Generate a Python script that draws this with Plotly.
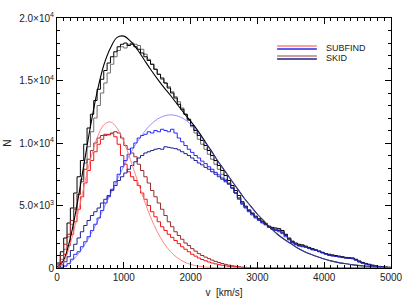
import numpy as np
import plotly.graph_objects as go

# ---------------- data ----------------
BIN_WIDTH = 50          # km/s
V_MAX = 5000

# histograms: counts per 50 km/s bin, 0..5000 km/s (100 bins)
red_subfind = [150, 500, 1100, 1800, 2700, 3700, 4700, 5700, 6800, 7800,
               8600, 9300, 9900, 10300, 10600, 10700, 10750, 10500, 9900, 9000,
               8300, 7700, 7300, 7000, 6600, 6000, 5500, 5000, 4500, 4100,
               3700, 3300, 3000, 2700, 2450, 2200, 1950, 1700, 1500, 1300,
               1100, 950, 800, 680, 580, 480, 400, 330, 270, 220,
               170, 130, 100, 80, 60, 40, 30, 20, 10, 0] + [0] * 40

red_skid = [300, 1000, 1900, 2700, 3800, 4800, 5900, 6900, 7900, 8700,
            9400, 10000, 10400, 10600, 10700, 10650, 10800, 10900, 10800, 10400,
            9800, 9500, 9200, 8900, 8300, 7800, 7300, 6800, 6200, 5700,
            5200, 4700, 4200, 3700, 3300, 2900, 2600, 2300, 2000, 1800,
            1550, 1350, 1150, 1000, 870, 750, 630, 530, 440, 360,
            290, 230, 180, 140, 100, 70, 50, 30, 20, 10] + [0] * 40

blue_subfind = [0, 50, 150, 350, 700, 1100, 1300, 1700, 2100, 2500,
                3000, 3500, 4000, 4600, 5200, 5700, 6300, 6900, 7500, 8100,
                8600, 9100, 9600, 10000, 10400, 10600, 10700, 10900, 10800, 11000,
                10900, 11100, 11000, 10900, 11100, 10800, 10400, 10100, 9800, 9500,
                9250, 9000, 8800, 8550, 8350, 8100, 7900, 7650, 7450, 7200,
                7000, 6750, 6400, 6000, 5500, 5100, 4800, 4500, 4250, 4000,
                3800, 3600, 3450, 3250, 3100, 3000, 2900, 2750, 2500, 2250,
                2000, 1850, 1750, 1700, 1650, 1550, 1450, 1400, 1300, 1200,
                1100, 1000, 950, 920, 880, 830, 790, 760, 740, 620,
                480, 380, 310, 250, 190, 140, 100, 70, 40, 20]

blue_skid = [50, 250, 500, 900, 1400, 1900, 2400, 2900, 3400, 3800,
             4200, 4500, 4800, 5200, 5500, 5800, 6200, 6600, 7000, 7300,
             7600, 7900, 8200, 8500, 8800, 9000, 9200, 9300, 9400, 9500,
             9550, 9500, 9700, 9650, 9600, 9550, 9450, 9300, 9150, 9000,
             8800, 8600, 8400, 8250, 8050, 7900, 7700, 7500, 7300, 7100,
             6900, 6700, 6400, 6000, 5600, 5200, 4900, 4600, 4350, 4100,
             3900, 3700, 3500, 3300, 3150, 3100, 3000, 2850, 2600, 2300,
             2050, 1900, 1800, 1750, 1700, 1600, 1500, 1450, 1350, 1250,
             1150, 1050, 1000, 950, 900, 850, 800, 780, 770, 650,
             500, 400, 330, 260, 200, 150, 110, 80, 50, 30]

total_skid = [400, 1300, 2400, 3600, 4800, 6000, 7300, 8600, 9900, 11200,
              12300, 13400, 14300, 15100, 15800, 16400, 16900, 17300, 17700, 17900,
              18000, 17800, 17900, 17700, 17500, 17200, 16900, 16600, 16300, 15900,
              15500, 15200, 14800, 14400, 14000, 13600, 13100, 12700, 12300, 11900,
              11400, 11000, 10600, 10200, 9800, 9400, 9000, 8600, 8200, 7800,
              7400, 7000, 6600, 6200, 5800, 5300, 4950, 4650, 4400, 4150,
              3950, 3750, 3550, 3350, 3250, 3200, 3150, 3000, 2700, 2400,
              2150, 2000, 1900, 1850, 1750, 1650, 1550, 1450, 1350, 1250,
              1150, 1100, 1050, 1000, 950, 900, 850, 820, 800, 700,
              560, 450, 370, 300, 230, 170, 130, 90, 60, 30]

total_subfind = [150, 700, 1500, 2500, 3500, 4700, 5900, 7100, 8400, 9700,
                 10900, 12000, 13000, 14000, 14800, 15600, 16300, 16900, 17400, 17700,
                 17600, 17900, 18000, 17900, 17800, 17500, 17100, 16700, 16300, 15900,
                 15500, 15100, 14800, 14500, 14100, 13700, 13300, 12800, 12300, 11800,
                 11300, 10800, 10300, 9900, 9500, 9100, 8700, 8300, 7900, 7500,
                 7100, 6800, 6400, 6000, 5600, 5200, 4850, 4550, 4300, 4050,
                 3850, 3650, 3500, 3300, 3150, 3100, 3050, 2900, 2650, 2350,
                 2100, 1950, 1850, 1800, 1700, 1600, 1500, 1420, 1330, 1230,
                 1130, 1060, 1000, 960, 920, 870, 830, 800, 780, 680,
                 540, 430, 350, 280, 210, 160, 120, 80, 50, 25]

# smooth fits sampled every 100 km/s, 0..5000
FIT_STEP = 100
fit_red = [0, 510, 1960, 4060, 6430, 8660, 10410, 11450, 11690, 11180,
           10100, 8660, 7060, 5490, 4090, 2910, 1990, 1310, 820, 500,
           290, 160, 90, 50, 20, 10] + [0] * 25
fit_blue = [0, 115, 455, 1005, 1745, 2640, 3660, 4770, 5910, 7050,
            8150, 9170, 10080, 10850, 11460, 11900, 12160, 12250, 12170, 11930,
            11500, 10900, 10150, 9400, 8600, 7850, 7100, 6350, 5600, 4950,
            4300, 3750, 3200, 2700, 2300, 1950, 1600, 1330, 1100, 900,
            720, 570, 450, 360, 280, 210, 160, 120, 90, 70, 50]
fit_total = [0, 625, 2415, 5065, 8175, 11300, 14070, 16220, 17600, 18450,
             18550, 18150, 17500, 16700, 15900, 15150, 14450, 13800, 13100, 12400,
             11750, 11050, 10250, 9450, 8620, 7860, 7100, 6350, 5600, 4950,
             4300, 3750, 3200, 2700, 2300, 1950, 1600, 1330, 1100, 900,
             720, 570, 450, 360, 280, 210, 160, 120, 90, 70, 50]

y_tickvals = [0, 5000, 10000, 15000, 20000]
y_ticktext = ["0", "5.0×10<sup>3</sup>", "1.0×10<sup>4</sup>",
              "1.5×10<sup>4</sup>", "2.0×10<sup>4</sup>"]
legend_labels = ["SUBFIND", "SKID"]

# ---------------- figure ----------------
edges = np.arange(0, V_MAX + BIN_WIDTH, BIN_WIDTH)
fit_v = np.arange(0, V_MAX + FIT_STEP, FIT_STEP)

FONT = "Liberation Sans, Arial, sans-serif"
fig = go.Figure()

def hist(vals, color, width=1.0):
    fig.add_trace(go.Scatter(x=edges, y=list(vals) + [vals[-1]], mode="lines",
                             line=dict(color=color, width=width, shape="hv"),
                             hoverinfo="skip"))

hist(total_subfind, "rgb(110,110,110)")
hist(total_skid, "rgb(0,0,0)")
hist(red_skid, "rgb(150,45,45)")
hist(red_subfind, "rgb(245,20,20)")
hist(blue_subfind, "rgb(40,40,250)")
hist(blue_skid, "rgb(35,35,140)")

fig.add_trace(go.Scatter(x=fit_v, y=fit_total, mode="lines",
                         line=dict(color="black", width=1.1, shape="spline"),
                         hoverinfo="skip"))
fig.add_trace(go.Scatter(x=fit_v, y=fit_red, mode="lines",
                         line=dict(color="rgb(255,120,120)", width=0.9, shape="spline"),
                         hoverinfo="skip"))
fig.add_trace(go.Scatter(x=fit_v, y=fit_blue, mode="lines",
                         line=dict(color="rgba(90,90,255,0.65)", width=1.0, shape="spline"),
                         hoverinfo="skip"))

axis_common = dict(showline=True, linecolor="black", linewidth=1, mirror="allticks",
                   ticks="inside", ticklen=6, tickcolor="black", tickwidth=1,
                   showgrid=False, zeroline=False, automargin=False,
                   tickfont=dict(family=FONT, size=10, color="#222"))

fig.update_xaxes(range=[0, V_MAX], tickmode="linear", tick0=0, dtick=1000,
                 minor=dict(ticks="inside", ticklen=3, dtick=100, tick0=0,
                            tickcolor="black", showgrid=False),
                 title=dict(text="v  [km/s]", font=dict(family=FONT, size=10, color="#222"),
                            standoff=6),
                 **axis_common)
fig.update_yaxes(range=[0, 20000], tickmode="array", tickvals=y_tickvals,
                 ticktext=y_ticktext,
                 minor=dict(ticks="inside", ticklen=3, dtick=1000, tick0=0,
                            tickmode="linear", tickcolor="black", showgrid=False),
                 title=dict(text="N", font=dict(family=FONT, size=10, color="#222"),
                            standoff=5),
                 **axis_common)

# legend drawn by hand (two coloured lines per label)
lx0, lx1 = 0.659, 0.778
leg = [(legend_labels[0], 0.888, 0.876, "rgb(255,130,130)", "rgb(40,40,230)"),
       (legend_labels[1], 0.848, 0.836, "rgb(190,125,125)", "rgb(30,30,130)")]
for label, ya, yb, ca, cb in leg:
    fig.add_shape(type="line", xref="paper", yref="paper", x0=lx0, x1=lx1, y0=ya, y1=ya,
                  line=dict(color=ca, width=1.6))
    fig.add_shape(type="line", xref="paper", yref="paper", x0=lx0, x1=lx1, y0=yb, y1=yb,
                  line=dict(color=cb, width=1.6))
    fig.add_annotation(xref="paper", yref="paper", x=0.80, y=(ya + yb) / 2,
                       xanchor="left", yanchor="middle", text=label, showarrow=False,
                       font=dict(family=FONT, size=9, color="#222"))

fig.update_layout(width=407, height=306, margin=dict(l=57, r=16, t=18, b=38),
                  paper_bgcolor="white", plot_bgcolor="white", showlegend=False)

fig.write_html("out.html", config={"displayModeBar": False},
               post_script="document.body.style.margin='0';document.body.style.overflow='hidden';")
